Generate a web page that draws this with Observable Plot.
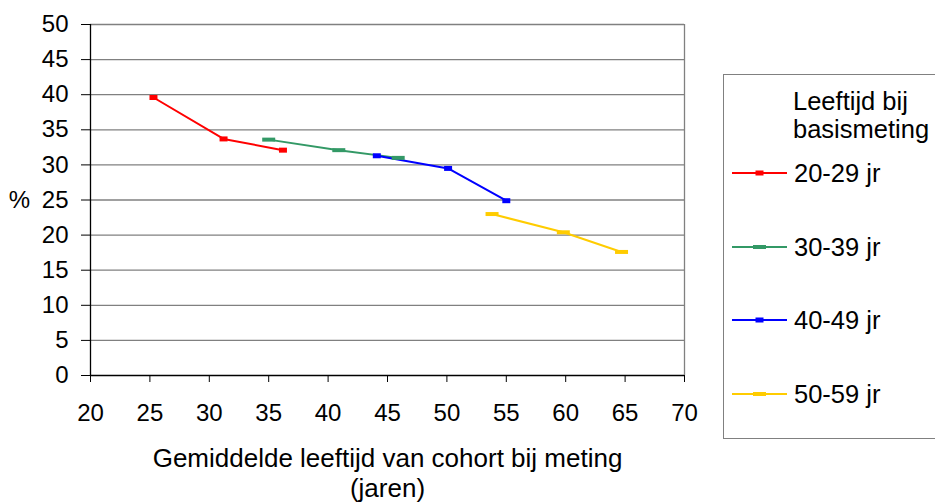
<!DOCTYPE html>
<html><head><meta charset="utf-8">
<script src="https://cdn.jsdelivr.net/npm/d3@7"></script>
<script src="https://cdn.jsdelivr.net/npm/@observablehq/plot@0.6"></script>
<style>
body{margin:0;overflow:hidden;background:#fff;font-family:"Liberation Sans",Arial,sans-serif;}
#wrap{position:relative;width:935px;height:504px;}
#legend{position:absolute;left:723px;top:74px;width:240px;height:365px;border:1px solid #808080;box-sizing:border-box;font-size:25.5px;color:#000;background:#fff;}
#legend .title{position:absolute;left:69px;top:12px;line-height:28px;}
#legend .entry{position:absolute;left:8px;height:30px;display:flex;align-items:center;}
#legend .entry svg{margin-right:7px;}
</style></head>
<body>
<div id="wrap"></div>
<script>
const series = ["20-29 jr", "30-39 jr", "40-49 jr", "50-59 jr"];
const colors = ["#FF0000", "#339966", "#0000FF", "#FFCC00"];
const ages = [
  [25.3, 31.2, 36.2],
  [35.0, 40.9, 45.9],
  [44.1, 50.1, 55.0],
  [53.8, 59.8, 64.7]
];
const pcts = [
  [39.6, 33.7, 32.1],
  [33.6, 32.1, 31.0],
  [31.3, 29.5, 24.9],
  [23.0, 20.4, 17.6]
];
const markerW = [8, 13, 8, 13];
const markerH = [5, 4, 5, 4];
const yTicks = d3.range(0, 51, 5);
const xTicks = d3.range(20, 71, 5);
const xTitle1 = "Gemiddelde leeftijd van cohort bij meting";
const xTitle2 = "(jaren)";
const yTitle = "%";
const legendTitle = ["Leeftijd bij", "basismeting"];

const rows = [];
series.forEach((s, i) => ages[i].forEach((a, j) => rows.push({series: s, age: a, pct: pcts[i][j]})));

const rectSymbol = (w, h) => ({draw(ctx) { ctx.rect(-w / 2, -h / 2, w, h); }});

const font = "Liberation Sans, Arial, sans-serif";
const chart = Plot.plot({
  width: 935,
  height: 504,
  marginLeft: 90,
  marginRight: 251,
  marginTop: 24,
  marginBottom: 129,
  style: {fontFamily: font, fontSize: "24px", color: "#000", background: "#fff"},
  x: {domain: [20, 70]},
  y: {domain: [0, 50]},
  color: {domain: series, range: colors},
  marks: [
    Plot.ruleY(yTicks.filter(d => d > 0), {stroke: "#808080", strokeWidth: 1.3}),
    Plot.ruleX([70], {stroke: "#808080", strokeWidth: 1.3}),
    Plot.axisY({ticks: yTicks, tickSize: 9, tickPadding: 13, label: null, stroke: "#000", fontSize: 24}),
    Plot.axisX({ticks: xTicks, tickSize: 7, tickPadding: 21, label: null, stroke: "#000", fontSize: 24}),
    Plot.ruleX([20], {stroke: "#000", strokeWidth: 1.3}),
    Plot.ruleY([0], {stroke: "#000", strokeWidth: 1.3}),
    Plot.line(rows, {x: "age", y: "pct", z: "series", stroke: "series", strokeWidth: 2}),
    ...series.map((s, i) => Plot.dot(rows.filter(r => r.series === s), {
      x: "age", y: "pct", fill: colors[i], stroke: "none", symbol: rectSymbol(markerW[i], markerH[i])
    })),
    Plot.text([xTitle1], {frameAnchor: "bottom", dy: 91, fontSize: 26, fill: "#000"}),
    Plot.text([xTitle2], {frameAnchor: "bottom", dy: 121, fontSize: 26, fill: "#000"}),
    Plot.text([yTitle], {frameAnchor: "left", dx: -71, textAnchor: "middle", fontSize: 24, fill: "#000"})
  ]
});
const wrap = document.getElementById("wrap");
wrap.appendChild(chart);

const legend = document.createElement("div");
legend.id = "legend";
const t = document.createElement("div");
t.className = "title";
t.innerHTML = legendTitle.join("<br>");
legend.appendChild(t);
const entryTops = [83, 157, 230, 304];
series.forEach((s, i) => {
  const e = document.createElement("div");
  e.className = "entry";
  e.style.top = entryTops[i] + "px";
  const svg = d3.create("svg").attr("width", 55).attr("height", 10);
  svg.append("line").attr("x1", 0).attr("x2", 55).attr("y1", 5).attr("y2", 5).attr("stroke", colors[i]).attr("stroke-width", 2);
  svg.append("rect").attr("x", 27.5 - markerW[i] / 2).attr("y", 5 - markerH[i] / 2).attr("width", markerW[i]).attr("height", markerH[i]).attr("fill", colors[i]);
  e.appendChild(svg.node());
  const span = document.createElement("span");
  span.textContent = s;
  e.appendChild(span);
  legend.appendChild(e);
});
wrap.appendChild(legend);
</script>
</body></html>
